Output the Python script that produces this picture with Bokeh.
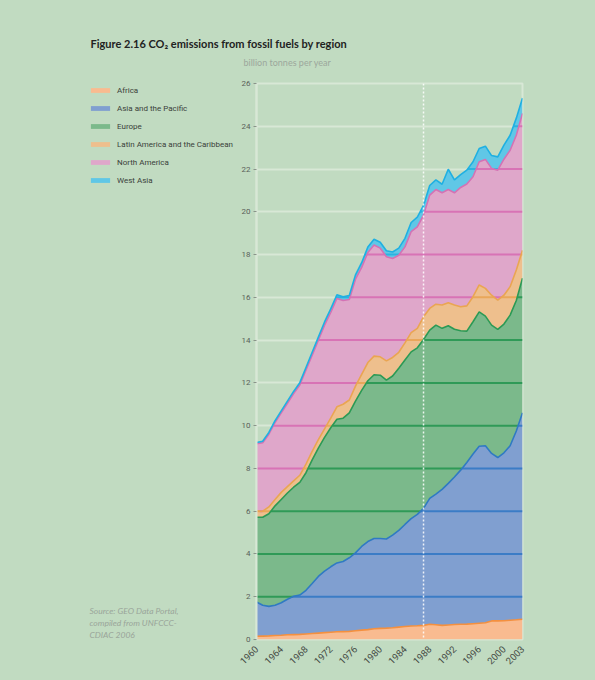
import math
import numpy as np
from bokeh.plotting import figure
from bokeh.layouts import column, row
from bokeh.models import Range1d, FixedTicker, Legend, LegendItem, Span
from bokeh.core.properties import value
from bokeh.embed import file_html
from bokeh.resources import INLINE

# ---------------- data (billion tonnes CO2 per year) ----------------
years = list(range(1960, 2004))

africa = [0.15, 0.16, 0.17, 0.19, 0.20, 0.22, 0.23, 0.24, 0.26, 0.28,
          0.30, 0.32, 0.34, 0.36, 0.37, 0.38, 0.41, 0.44, 0.46, 0.50,
          0.52, 0.53, 0.55, 0.58, 0.61, 0.63, 0.64, 0.66, 0.71, 0.69,
          0.66, 0.68, 0.70, 0.71, 0.72, 0.74, 0.76, 0.78, 0.87, 0.87,
          0.88, 0.90, 0.92, 0.95]

asia_pacific = [1.60, 1.44, 1.38, 1.41, 1.52, 1.66, 1.79, 1.84, 2.04, 2.34,
                2.65, 2.88, 3.06, 3.22, 3.28, 3.44, 3.64, 3.91, 4.12, 4.22,
                4.20, 4.17, 4.33, 4.52, 4.77, 5.02, 5.21, 5.47, 5.89, 6.11,
                6.36, 6.62, 6.90, 7.21, 7.56, 7.93, 8.28, 8.28, 7.83, 7.64,
                7.85, 8.16, 8.83, 9.65]

europe = [3.97, 4.12, 4.33, 4.65, 4.83, 4.97, 5.10, 5.27, 5.50, 5.78,
          6.00, 6.25, 6.50, 6.72, 6.70, 6.78, 7.10, 7.30, 7.52, 7.66,
          7.64, 7.43, 7.44, 7.58, 7.69, 7.80, 7.79, 7.90, 7.87, 7.90,
          7.53, 7.37, 6.91, 6.52, 6.14, 6.19, 6.28, 6.06, 6.00, 5.99,
          6.02, 6.11, 6.10, 6.30]

latin_america = [0.28, 0.28, 0.32, 0.30, 0.33, 0.30, 0.30, 0.33, 0.40, 0.40,
                 0.40, 0.40, 0.45, 0.58, 0.65, 0.60, 0.70, 0.75, 0.85, 0.87,
                 0.86, 0.90, 0.87, 0.75, 0.80, 0.90, 0.91, 1.06, 1.01, 0.98,
                 1.09, 1.08, 1.13, 1.12, 1.18, 1.17, 1.26, 1.30, 1.40, 1.37,
                 1.35, 1.33, 1.43, 1.30]

north_america = [3.15, 3.20, 3.40, 3.60, 3.72, 3.90, 4.08, 4.22, 4.40, 4.50,
                 4.65, 4.85, 4.95, 5.07, 4.85, 4.70, 5.00, 5.00, 5.15, 5.20,
                 5.08, 4.87, 4.63, 4.54, 4.49, 4.72, 4.75, 4.76, 5.30, 5.36,
                 5.25, 5.29, 5.25, 5.58, 5.70, 5.61, 5.76, 6.03, 5.93, 6.08,
                 6.36, 6.38, 6.30, 6.40]

west_asia = [0.06, 0.07, 0.08, 0.08, 0.09, 0.10, 0.10, 0.11, 0.12, 0.13,
             0.14, 0.15, 0.16, 0.17, 0.18, 0.19, 0.20, 0.22, 0.25, 0.27,
             0.28, 0.28, 0.30, 0.33, 0.40, 0.43, 0.45, 0.45, 0.45, 0.45,
             0.40, 0.95, 0.60, 0.60, 0.65, 0.70, 0.62, 0.62, 0.60, 0.62,
             0.66, 0.70, 0.80, 0.72]

region_names = ["Africa", "Asia and the Pacific", "Europe",
                "Latin America and the Caribbean", "North America", "West Asia"]

x_ticks = [1960, 1964, 1968, 1972, 1976, 1980, 1984, 1988, 1992, 1996, 2000, 2003]
y_ticks = list(range(0, 27, 2))
marker_year = 1987

title_text = "Figure 2.16 CO\u2082 emissions from fossil fuels by region"
unit_text = "billion tonnes per year"
source_lines = ["Source: GEO Data Portal,", "compiled from UNFCCC-", "CDIAC 2006"]

# ---------------- styling ----------------
BG = "#c1dbc1"
LIGHT = "#d8e8d6"
fills = ["#f9bb90", "#809fd0", "#7bb98b", "#eebf8d", "#dfa7ca", "#60c7e6"]
edges = ["#f4903f", "#2f7ac3", "#2b9a55", "#eaa552", "#d472b4", "#1fb0e2"]
gridc = [None, "#3b7cc6", "#2f9a57", "#e9a75a", "#d873b5", "#2cb3e0"]
SANS = "Roboto"

LEFT_W = 238          # width of the legend strip (page px)
TOP_H = 70            # height of the header strip (page px)


def text_panel(w, h, x0, x1, y0, y1, **borders):
    f = figure(width=w, height=h, output_backend="svg", toolbar_location=None,
               x_range=Range1d(x0, x1), y_range=Range1d(y0, y1),
               x_axis_location=None, y_axis_location=None, min_border=0, **borders)
    f.grid.visible = False
    f.outline_line_color = None
    f.background_fill_color = BG
    f.border_fill_color = BG
    return f


# ---------------- header strip ----------------
top = text_panel(595, TOP_H, 0, 595, TOP_H, 0)
top.text(x=[90], y=[43], text=[title_text], text_font=value("Lato"),
         text_font_style="bold", text_font_size="11px", text_color="#222222",
         text_baseline="middle")
top.text(x=[243], y=[62], text=[unit_text], text_font=value("Lato"),
         text_font_size="9px", text_color="#9ca79c", text_baseline="middle")

# ---------------- main chart ----------------
p = figure(width=595 - LEFT_W, height=680 - TOP_H, output_backend="svg",
           toolbar_location=None,
           x_range=Range1d(1960, 2003), y_range=Range1d(0, 26),
           min_border_left=17, min_border_right=73, min_border_top=13,
           min_border_bottom=41)
p.background_fill_color = BG
p.border_fill_color = BG
p.outline_line_color = LIGHT
p.outline_line_width = 2

p.xgrid.grid_line_color = None
p.ygrid.ticker = FixedTicker(ticks=y_ticks)
p.ygrid.grid_line_color = LIGHT
p.ygrid.grid_line_width = 2

p.yaxis.ticker = FixedTicker(ticks=y_ticks)
p.yaxis.axis_line_color = LIGHT
p.yaxis.axis_line_width = 2
p.yaxis.major_tick_out = 3
p.yaxis.major_tick_in = 0
p.yaxis.major_tick_line_color = "#8a948a"
p.yaxis.minor_tick_line_color = None
p.yaxis.major_label_text_font = SANS
p.yaxis.major_label_text_font_size = "8px"
p.yaxis.major_label_text_color = "#5a5f5a"
p.yaxis.major_label_standoff = 3

p.xaxis.ticker = FixedTicker(ticks=x_ticks)
p.xaxis.axis_line_color = None
p.xaxis.major_tick_line_color = None
p.xaxis.minor_tick_line_color = None
p.xaxis.major_label_orientation = math.pi / 4
p.xaxis.major_label_text_font = SANS
p.xaxis.major_label_text_font_size = "9.5px"
p.xaxis.major_label_text_color = "#444a44"
p.xaxis.major_label_standoff = 2

series = [africa, asia_pacific, europe, latin_america, north_america, west_asia]
x = np.array(years, dtype=float)
tops = np.cumsum(np.array(series, dtype=float), axis=0)
bottoms = np.vstack([np.zeros(len(years)), tops[:-1]])

for i in range(len(series)):
    p.varea(x=x, y1=bottoms[i], y2=tops[i], fill_color=fills[i], fill_alpha=1.0)

# grid lines re-drawn inside each band in the band's darker colour
fine = np.linspace(x[0], x[-1], 8601)
for i in range(1, len(series)):
    bi = np.interp(fine, x, bottoms[i])
    ti = np.interp(fine, x, tops[i])
    x0s, x1s, ys = [], [], []
    for lev in y_ticks[1:]:
        m = (bi <= lev) & (ti >= lev)
        if not m.any():
            continue
        d = np.diff(np.concatenate([[0], m.astype(int), [0]]))
        starts = np.where(d == 1)[0]
        ends = np.where(d == -1)[0] - 1
        for s, e in zip(starts, ends):
            x0s.append(fine[s]); x1s.append(fine[e]); ys.append(lev)
    if ys:
        p.segment(x0=x0s, y0=ys, x1=x1s, y1=ys, line_color=gridc[i], line_width=2)

for i in range(len(series)):
    p.line(x=x, y=tops[i], line_color=edges[i], line_width=1.6)

p.add_layout(Span(location=marker_year, dimension="height", line_color="white",
                  line_width=1.5, line_alpha=0.85, line_dash="2 2"))

# ---------------- left strip: legend + source ----------------
# its frame is aligned with the chart frame (page y 83..639), page x 88..LEFT_W
left = text_panel(LEFT_W, 680 - TOP_H, 88, LEFT_W, 639, 83,
                  min_border_left=88, min_border_top=13, min_border_bottom=41)
swatches = [left.varea(x=[years[0]], y1=[0], y2=[series[i][0]], fill_color=fills[i])
            for i in range(len(series))]
legend = Legend(items=[LegendItem(label=region_names[i], renderers=[swatches[i]])
                       for i in range(len(series))],
                location="top_left", orientation="vertical",
                glyph_width=24, glyph_height=6, label_height=14, spacing=4,
                padding=0, margin=0, label_standoff=5,
                label_text_font=SANS, label_text_font_size="8px",
                label_text_color="#3a3f3a", border_line_alpha=0,
                background_fill_alpha=0)
left.add_layout(legend)
left.text(x=[89, 89, 89], y=[610, 622, 634], text=source_lines,
          text_font=value("Lato"), text_font_style="italic",
          text_font_size="8.5px", text_color="#9aa59a", text_baseline="middle")

layout = column(top, row(left, p, spacing=0), spacing=0)

html = file_html(layout, INLINE, title="CO2 emissions from fossil fuels by region")
html = html.replace("</head>", "<style>body{background:%s;}</style></head>" % BG, 1)
open("out.html", "w").write(html)
